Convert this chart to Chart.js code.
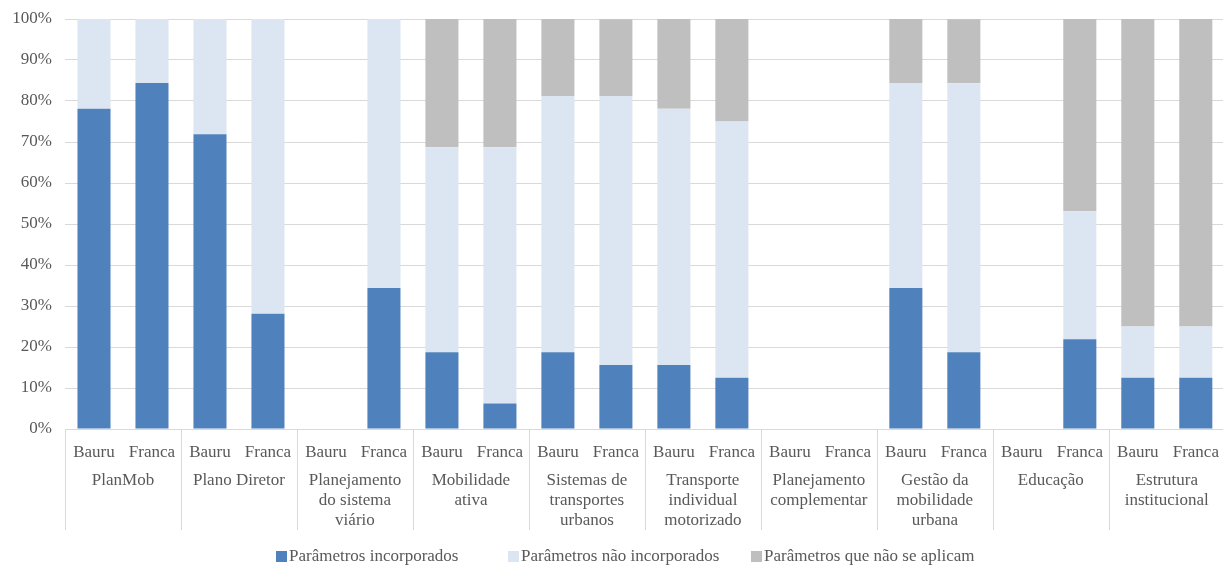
<!DOCTYPE html>
<html>
<head>
<meta charset="utf-8">
<script src="https://cdn.jsdelivr.net/npm/chart.js@4"></script>
<style>
html,body{margin:0;padding:0;overflow:hidden;background:#fff;}
#wrap{width:1232px;height:565px;}
</style>
</head>
<body>
<div id="wrap"><canvas id="c" width="1232" height="565"></canvas></div>
<script>
const groups = [
  ["PlanMob"],
  ["Plano Diretor"],
  ["Planejamento","do sistema","viário"],
  ["Mobilidade","ativa"],
  ["Sistemas de","transportes","urbanos"],
  ["Transporte","individual","motorizado"],
  ["Planejamento","complementar"],
  ["Gestão da","mobilidade","urbana"],
  ["Educação"],
  ["Estrutura","institucional"]
];
const cities = ["Bauru","Franca"];
const seriesNames = ["Parâmetros incorporados","Parâmetros não incorporados","Parâmetros que não se aplicam"];
const incorporados    = [78.1, 84.4, 71.9, 28.1, 0, 34.4, 18.75, 6.25, 18.75, 15.6, 15.6, 12.5, 0, 0, 34.4, 18.75, 0, 21.9, 12.5, 12.5];
const naoIncorporados = [21.9, 15.6, 28.1, 71.9, 0, 65.6, 50, 62.5, 62.5, 65.6, 62.5, 62.5, 0, 0, 50, 65.6, 0, 31.2, 12.5, 12.5];
const naoAplicam      = [0, 0, 0, 0, 0, 0, 31.25, 31.25, 18.75, 18.75, 21.9, 25, 0, 0, 15.6, 15.6, 0, 46.9, 75, 75];
const yTicks = [0,10,20,30,40,50,60,70,80,90,100];

const colors = ["#4F81BD","#DCE6F2","#BFBFBF"];
const FONT = "'Liberation Serif','Times New Roman',serif";
const TXT = "#595959";

const labels = [];
groups.forEach(() => cities.forEach(c => labels.push(c)));

const groupPlugin = {
  id: 'groupAxis',
  afterDraw(chart) {
    const ctx = chart.ctx;
    const x = chart.scales.x;
    const area = chart.chartArea;
    const n = groups.length;
    const gw = (x.right - x.left) / n;
    ctx.save();
    ctx.strokeStyle = "#D9D9D9";
    ctx.lineWidth = 1;
    ctx.beginPath();
    ctx.moveTo(x.left, Math.round(area.bottom) + 0.5);
    ctx.lineTo(x.right, Math.round(area.bottom) + 0.5);
    ctx.stroke();
    for (let i = 0; i <= n; i++) {
      const gx = Math.round(x.left + i * gw) + 0.5;
      ctx.beginPath();
      ctx.moveTo(gx, area.bottom);
      ctx.lineTo(gx, area.bottom + 101);
      ctx.stroke();
    }
    ctx.fillStyle = TXT;
    ctx.font = "17px " + FONT;
    ctx.textAlign = "center";
    ctx.textBaseline = "middle";
    groups.forEach((lines, i) => {
      const cx = x.left + (i + 0.5) * gw;
      lines.forEach((t, j) => ctx.fillText(t, cx, area.bottom + 52 + j * 20));
    });
    // legend (fixed column positions like the original)
    ctx.font = "17px " + FONT;
    ctx.textAlign = "left";
    const legendX = [276, 508, 751];
    const box = 11, ly = 556;
    chart.data.datasets.forEach((d, i) => {
      const lx = legendX[i];
      ctx.fillStyle = d.backgroundColor;
      ctx.fillRect(lx, ly - 5, box, box);
      ctx.fillStyle = TXT;
      ctx.fillText(d.label, lx + box + 2, ly + 1);
    });
    ctx.restore();
  }
};

new Chart(document.getElementById('c'), {
  type: 'bar',
  data: {
    labels: labels,
    datasets: [
      { label: seriesNames[0], data: incorporados, backgroundColor: colors[0] },
      { label: seriesNames[1], data: naoIncorporados, backgroundColor: colors[1] },
      { label: seriesNames[2], data: naoAplicam, backgroundColor: colors[2] }
    ]
  },
  options: {
    responsive: false,
    animation: false,
    devicePixelRatio: 1,
    layout: { padding: { top: 19, right: 3, bottom: 36, left: 0 } },
    datasets: { bar: { barPercentage: 0.57, categoryPercentage: 1.0 } },
    plugins: { legend: { display: false }, tooltip: { enabled: false } },
    scales: {
      x: {
        stacked: true,
        grid: { display: false, drawTicks: false },
        border: { display: false },
        ticks: { color: TXT, font: { family: FONT, size: 17 }, padding: 13, maxRotation: 0, autoSkip: false },
        afterFit(s) { s.height = 100; }
      },
      y: {
        stacked: true,
        min: 0, max: 100,
        afterBuildTicks(s) { s.ticks = yTicks.map(v => ({ value: v })); },
        grid: { color: "#D9D9D9", drawTicks: false, lineWidth: 1 },
        border: { display: false },
        ticks: { color: TXT, font: { family: FONT, size: 17 }, padding: 13, callback: v => v + "%" },
        afterFit(s) { s.width = 65; s.paddingTop = 0; s.paddingBottom = 0; }
      }
    }
  },
  plugins: [groupPlugin]
});
</script>
</body>
</html>
